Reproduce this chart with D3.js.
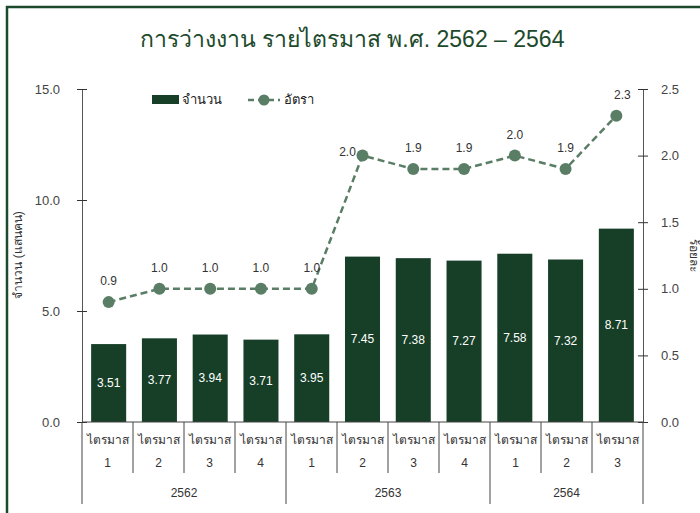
<!DOCTYPE html>
<html>
<head>
  <meta charset="utf-8">
  <script src="https://cdn.jsdelivr.net/npm/d3@7"></script>
  <style>
    body { margin: 0; background: #fff; font-family: "Liberation Sans", Arial, sans-serif; }
    svg { display: block; }
  </style>
</head>
<body>
  <div id="chart"></div>
  <script>
    const quarters = ["1", "2", "3", "4", "1", "2", "3", "4", "1", "2", "3"];
    const years = ["2562", "2562", "2562", "2562", "2563", "2563", "2563", "2563", "2564", "2564", "2564"];
    const unemployed = [3.51, 3.77, 3.94, 3.71, 3.95, 7.45, 7.38, 7.27, 7.58, 7.32, 8.71];
    const rate = [0.9, 1.0, 1.0, 1.0, 1.0, 2.0, 1.9, 1.9, 2.0, 1.9, 2.3];
    const leftTicks = [0, 5, 10, 15];
    const rightTicks = [0, 0.5, 1.0, 1.5, 2.0, 2.5];

    const width = 700, height = 513;
    const plotLeft = 82, plotRight = 643, plotTop = 89, plotBottom = 422;
    const green = "#173f27", lineGreen = "#5a7d65";

    const svg = d3.select("#chart").append("svg")
      .attr("width", width).attr("height", height);

    // frame
    svg.append("path")
      .attr("d", `M7,${height} L7,7 L${width},7`)
      .attr("fill", "none").attr("stroke", "#1d4a2c").attr("stroke-width", 2.5);

    svg.append("text")
      .attr("x", 352).attr("y", 47)
      .attr("text-anchor", "middle")
      .attr("fill", "#1d4a2c")
      .style("font-size", "23px")
      .text("การว่างงาน รายไตรมาส พ.ศ. 2562 – 2564");

    const idx = d3.range(unemployed.length);
    const x = d3.scaleBand().domain(idx).range([plotLeft, plotRight]).paddingInner(0.31).paddingOuter(0.18);
    const step = (plotRight - plotLeft) / idx.length;
    const yL = d3.scaleLinear().domain([0, 15]).range([plotBottom, plotTop]);
    const yR = d3.scaleLinear().domain([0, 2.5]).range([plotBottom, plotTop]);

    // bars
    svg.append("g").selectAll("rect")
      .data(unemployed)
      .join("rect")
      .attr("x", (d, i) => x(i))
      .attr("y", d => yL(d))
      .attr("width", x.bandwidth())
      .attr("height", d => yL(0) - yL(d))
      .attr("fill", green);

    svg.append("g").selectAll("text")
      .data(unemployed)
      .join("text")
      .attr("x", (d, i) => x(i) + x.bandwidth() / 2)
      .attr("y", d => (yL(d) + yL(0)) / 2 + 4)
      .attr("text-anchor", "middle")
      .attr("fill", "#fff")
      .style("font-size", "12px")
      .text(d => d.toFixed(2));

    // axes
    const axisL = svg.append("g").attr("transform", `translate(${plotLeft},0)`)
      .call(d3.axisLeft(yL).tickValues(leftTicks).tickFormat(d3.format(".1f")).tickSizeInner(5).tickSizeOuter(0));
    const axisR = svg.append("g").attr("transform", `translate(${plotRight},0)`)
      .call(d3.axisRight(yR).tickValues(rightTicks).tickFormat(d3.format(".1f")).tickSizeInner(5).tickSizeOuter(0));
    [axisL, axisR].forEach(a => {
      a.select(".domain").attr("stroke", "#555");
      a.selectAll(".tick line").attr("stroke", "#333").attr("x1", -5).attr("x2", 5);
      a.selectAll(".tick text").attr("fill", "#444").style("font-size", "13px")
        .style("font-family", "'Liberation Sans', Arial, sans-serif");
    });
    axisL.selectAll(".tick text").attr("x", -22);
    axisR.selectAll(".tick text").attr("x", 18);

    svg.append("line")
      .attr("x1", plotLeft).attr("x2", plotRight).attr("y1", yL(0)).attr("y2", yL(0))
      .attr("stroke", "#444");

    // category separators
    const sep = svg.append("g").attr("stroke", "#444");
    d3.range(idx.length + 1).forEach(i => {
      const isYear = i === 0 || i === idx.length || years[i] !== years[i - 1];
      sep.append("line")
        .attr("x1", plotLeft + i * step).attr("x2", plotLeft + i * step)
        .attr("y1", yL(0)).attr("y2", isYear ? 504 : 473);
    });

    const catLabels = svg.append("g").attr("fill", "#333").attr("text-anchor", "middle");
    catLabels.selectAll(".q1").data(quarters).join("text")
      .attr("x", (d, i) => plotLeft + (i + 0.5) * step).attr("y", 444)
      .style("font-size", "12px")
      .text("ไตรมาส");
    catLabels.selectAll(".q2").data(quarters).join("text")
      .attr("x", (d, i) => plotLeft + (i + 0.5) * step).attr("y", 467)
      .style("font-size", "12px")
      .text(d => d);

    const yearGroups = d3.groups(idx, i => years[i]);
    catLabels.selectAll(".yr").data(yearGroups).join("text")
      .attr("x", d => plotLeft + (d3.min(d[1]) + d3.max(d[1]) + 1) / 2 * step)
      .attr("y", 497)
      .style("font-size", "12px")
      .text(d => d[0]);

    // rate line
    const line = d3.line().x((d, i) => x(i) + x.bandwidth() / 2).y(d => yR(d));
    svg.append("path")
      .datum(rate)
      .attr("d", line)
      .attr("fill", "none")
      .attr("stroke", lineGreen)
      .attr("stroke-width", 2.5)
      .attr("stroke-dasharray", "7,4");

    svg.append("g").selectAll("circle")
      .data(rate)
      .join("circle")
      .attr("cx", (d, i) => x(i) + x.bandwidth() / 2)
      .attr("cy", d => yR(d))
      .attr("r", 6)
      .attr("fill", lineGreen);

    svg.append("g").selectAll("text")
      .data(rate)
      .join("text")
      .attr("x", (d, i) => x(i) + x.bandwidth() / 2 - (i === 5 ? 15 : i === 10 ? -6 : 0))
      .attr("y", (d, i) => yR(d) - (i === 5 ? 0 : 17))
      .attr("text-anchor", "middle")
      .attr("fill", "#333")
      .style("font-size", "12px")
      .text(d => d.toFixed(1));

    // axis titles
    svg.append("text")
      .attr("transform", "translate(22,255) rotate(-90)")
      .attr("text-anchor", "middle")
      .attr("fill", "#333")
      .style("font-size", "12px")
      .text("จำนวน (แสนคน)");
    svg.append("text")
      .attr("transform", "translate(690,255) rotate(90)")
      .attr("text-anchor", "middle")
      .attr("fill", "#333")
      .style("font-size", "12px")
      .text("ร้อยละ");

    // legend
    const lg = svg.append("g");
    lg.append("rect").attr("x", 152).attr("y", 95).attr("width", 27).attr("height", 9).attr("fill", green);
    lg.append("text").attr("x", 182).attr("y", 104).attr("fill", "#222").style("font-size", "13px").text("จำนวน");
    lg.append("line").attr("x1", 248).attr("x2", 280).attr("y1", 100).attr("y2", 100)
      .attr("stroke", lineGreen).attr("stroke-width", 2.5).attr("stroke-dasharray", "6,4");
    lg.append("circle").attr("cx", 264).attr("cy", 100).attr("r", 5.5).attr("fill", lineGreen);
    lg.append("text").attr("x", 284).attr("y", 104).attr("fill", "#222").style("font-size", "13px").text("อัตรา");
  </script>
</body>
</html>
